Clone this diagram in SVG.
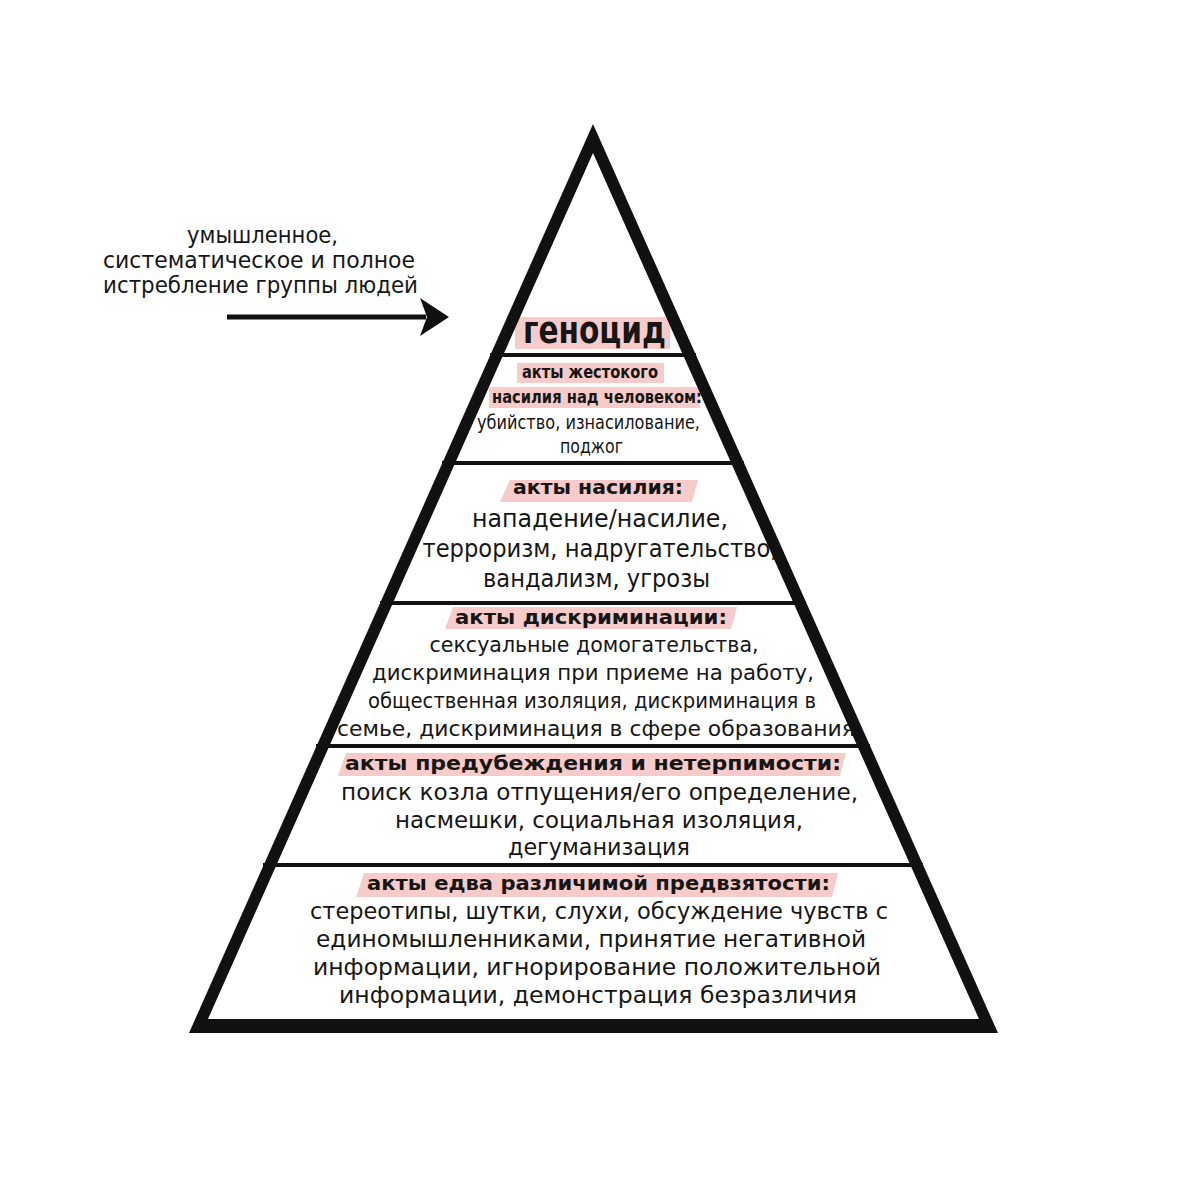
<svg xmlns="http://www.w3.org/2000/svg" width="1189" height="1200" viewBox="0 0 1189 1200">
<style>
  .reg { font-family: "DejaVu Sans", "Liberation Sans", sans-serif; fill: #161616; text-anchor: middle; }
  .bold { font-family: "DejaVu Sans", "Liberation Sans", sans-serif; font-weight: bold; fill: #161616; text-anchor: middle; }
  .hl { fill: #f6cbca; }
  .div { stroke: #111; stroke-width: 4; }
</style>
<defs>
  <marker id="ah" markerUnits="userSpaceOnUse" viewBox="0 0 32 40" markerWidth="32" markerHeight="40" refX="8" refY="20" orient="auto">
    <path d="M2,1 L31,20 L2,39 L9,20 Z" fill="#111"/>
  </marker>
</defs>
<rect width="1189" height="1200" fill="#fff"/>

<g id="note">
  <text class="reg" font-size="23" x="262.5" y="243" textLength="151" lengthAdjust="spacingAndGlyphs">умышленное,</text>
  <text class="reg" font-size="23" x="259" y="268" textLength="312" lengthAdjust="spacingAndGlyphs">систематическое и полное</text>
  <text class="reg" font-size="23" x="260.5" y="293" textLength="315" lengthAdjust="spacingAndGlyphs">истребление группы людей</text>
</g>

<g id="connectors">
  <line x1="227" y1="317" x2="426" y2="317" stroke="#111" stroke-width="5" marker-end="url(#ah)"/>
</g>

<g id="tier-genocide">
  <rect class="hl" x="515" y="317" width="155" height="32"/>
  <text class="bold" font-size="37" x="594.5" y="343" textLength="143" lengthAdjust="spacingAndGlyphs">геноцид</text>
</g>

<g id="tier-violence-person">
  <rect class="hl" x="517" y="363" width="147" height="20"/>
  <rect class="hl" x="489" y="387" width="211" height="21"/>
  <text class="bold" font-size="18" x="590" y="378" textLength="136" lengthAdjust="spacingAndGlyphs">акты жестокого</text>
  <text class="bold" font-size="18" x="597" y="403" textLength="210" lengthAdjust="spacingAndGlyphs">насилия над человеком:</text>
  <text class="reg" font-size="20" x="588.5" y="429" textLength="223" lengthAdjust="spacingAndGlyphs">убийство, изнасилование,</text>
  <text class="reg" font-size="20" x="591.5" y="453" textLength="63" lengthAdjust="spacingAndGlyphs">поджог</text>
</g>

<g id="tier-violence">
  <polygon class="hl" points="500,502 510,480 698,480 692,502"/>
  <text class="bold" font-size="20" x="598" y="494" textLength="170" lengthAdjust="spacingAndGlyphs">акты насилия:</text>
  <text class="reg" font-size="24" x="600" y="527" textLength="256" lengthAdjust="spacingAndGlyphs">нападение/насилие,</text>
  <text class="reg" font-size="24" x="600" y="557" textLength="355" lengthAdjust="spacingAndGlyphs">терроризм, надругательство,</text>
  <text class="reg" font-size="24" x="596.5" y="587" textLength="227" lengthAdjust="spacingAndGlyphs">вандализм, угрозы</text>
</g>

<g id="tier-discrimination">
  <polygon class="hl" points="445,629 453,607 737,607 731,629"/>
  <text class="bold" font-size="20" x="591" y="624" textLength="272" lengthAdjust="spacingAndGlyphs">акты дискриминации:</text>
  <text class="reg" font-size="22" x="594" y="652" textLength="329" lengthAdjust="spacingAndGlyphs">сексуальные домогательства,</text>
  <text class="reg" font-size="22" x="593" y="680" textLength="442" lengthAdjust="spacingAndGlyphs">дискриминация при приеме на работу,</text>
  <text class="reg" font-size="22" x="592" y="708" textLength="448" lengthAdjust="spacingAndGlyphs">общественная изоляция, дискриминация в</text>
  <text class="reg" font-size="22" x="596" y="736" textLength="518" lengthAdjust="spacingAndGlyphs">семье, дискриминация в сфере образования</text>
</g>

<g id="tier-prejudice">
  <polygon class="hl" points="338,776 346,753 846,753 840,776"/>
  <text class="bold" font-size="20" x="593" y="770" textLength="496" lengthAdjust="spacingAndGlyphs">акты предубеждения и нетерпимости:</text>
  <text class="reg" font-size="23" x="599.5" y="800" textLength="517" lengthAdjust="spacingAndGlyphs">поиск козла отпущения/его определение,</text>
  <text class="reg" font-size="23" x="599" y="828" textLength="408" lengthAdjust="spacingAndGlyphs">насмешки, социальная изоляция,</text>
  <text class="reg" font-size="23" x="599" y="855" textLength="182" lengthAdjust="spacingAndGlyphs">дегуманизация</text>
</g>

<g id="tier-bias">
  <polygon class="hl" points="356,897 364,873 838,873 832,897"/>
  <text class="bold" font-size="20" x="598.5" y="890" textLength="463" lengthAdjust="spacingAndGlyphs">акты едва различимой предвзятости:</text>
  <text class="reg" font-size="23" x="599" y="919" textLength="578" lengthAdjust="spacingAndGlyphs">стереотипы, шутки, слухи, обсуждение чувств с</text>
  <text class="reg" font-size="23" x="591" y="947" textLength="550" lengthAdjust="spacingAndGlyphs">единомышленниками, принятие негативной</text>
  <text class="reg" font-size="23" x="597" y="975" textLength="568" lengthAdjust="spacingAndGlyphs">информации, игнорирование положительной</text>
  <text class="reg" font-size="23" x="598" y="1003" textLength="518" lengthAdjust="spacingAndGlyphs">информации, демонстрация безразличия</text>
</g>

<g id="pyramid">
  <line class="div" x1="490" y1="355" x2="696" y2="355"/>
  <line class="div" x1="442" y1="463" x2="744" y2="463"/>
  <line class="div" x1="380" y1="603" x2="806" y2="603"/>
  <line class="div" x1="316" y1="746" x2="870" y2="746"/>
  <line class="div" x1="263" y1="865" x2="923" y2="865"/>
  <path fill="#111" fill-rule="evenodd" d="M593,124 L189,1033 L998,1033 Z M593,153 L208,1019 L979,1019 Z"/>
</g>
</svg>
